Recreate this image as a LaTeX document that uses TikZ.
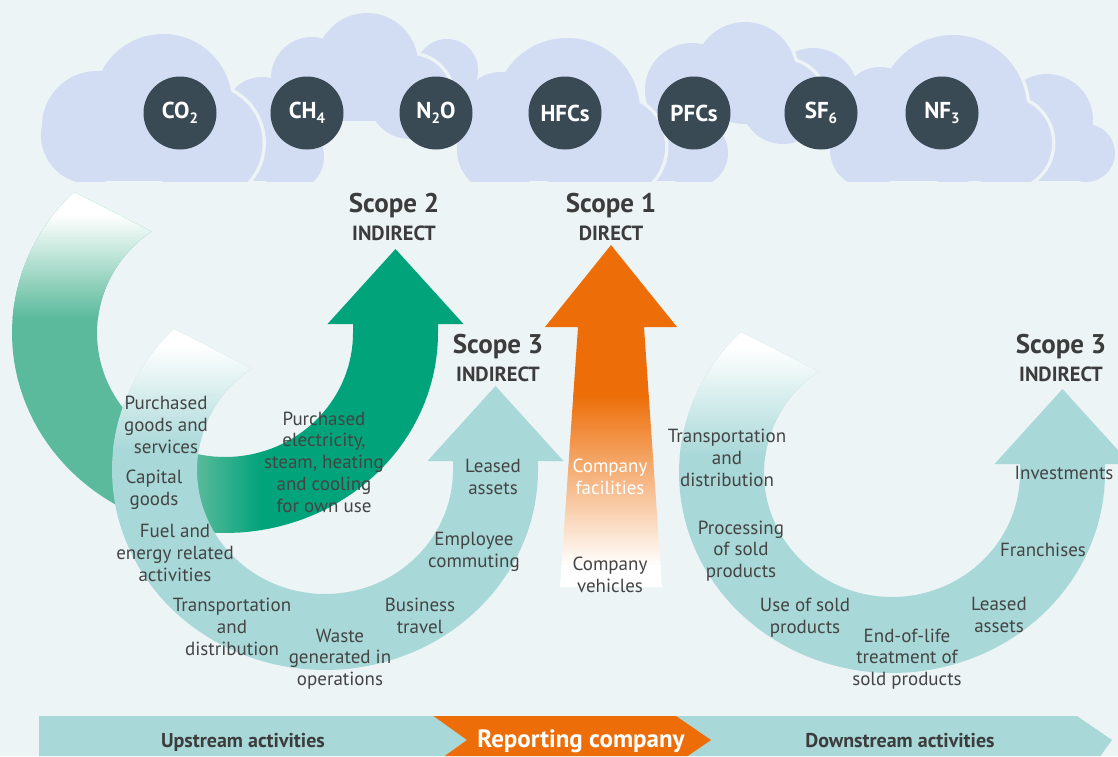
\documentclass[tikz,border=0pt]{standalone}
\usepackage{fontspec}
\setmainfont{PT Sans}

\definecolor{bg}{RGB}{236,244,246}
\definecolor{cloudc}{RGB}{210,220,242}
\definecolor{gasc}{RGB}{57,74,85}
\definecolor{txt}{RGB}{68,68,68}
\definecolor{dark}{RGB}{60,60,60}
\definecolor{tealc}{RGB}{169,216,216}
\definecolor{greenD}{RGB}{0,163,122}
\definecolor{greenL}{RGB}{91,186,155}
\definecolor{orangec}{RGB}{237,110,8}
\definecolor{orangeM}{RGB}{243,155,80}

% subscript for gas formulas
\newcommand{\gsub}[1]{\raisebox{-0.22em}{\fontsize{15}{15}\selectfont #1}}

% ring arrow: centre (#1,#2), elliptic ring ending in an upward arrow head
\newcommand{\ringpath}[2]{plot[domain=224.8:0,samples=90] ({#1+213*cos(\x)},{#2+200*sin(\x)})
  -- ({#1+213},{#2-9}) -- ({#1+238.5},{#2-9}) -- ({#1+170.5},{#2-84})
  -- ({#1+102.5},{#2-9}) -- ({#1+128},{#2-9})
  -- plot[domain=0:235,samples=90] ({#1+128*cos(\x)},{#2+124*sin(\x)}) -- cycle}

% cloud pieces: circles given as x/y/r, boxes as x1/y1/x2/y2
\newcommand{\cloudcircs}[2]{\foreach \cx/\cy/\cr in {#2} {\path[#1] (\cx,\cy) circle[radius=\cr];}}
\newcommand{\cloudboxes}[2]{\foreach \ax/\ay/\bx/\by in {#2} {\path[#1] (\ax,\ay) rectangle (\bx,\by);}}

\begin{document}
\begin{tikzpicture}[x=1pt,y=-1pt,
  lbl/.style={font=\fontsize{19}{21.7}\selectfont, text=txt, align=center, inner sep=0pt},
  gas/.style={circle, fill=gasc, minimum size=73pt, inner sep=0pt, text=white,
              font=\fontsize{23}{23}\selectfont\bfseries},
  scopet/.style={font=\fontsize{27}{27}\selectfont\bfseries, text=dark, inner sep=0pt, anchor=base},
  scopes/.style={font=\fontsize{20.5}{20.5}\selectfont\bfseries, text=dark, inner sep=0pt, anchor=base},
  bantxt/.style={font=\fontsize{20}{20}\selectfont\bfseries, text=dark, inner sep=0pt, anchor=base},
  halo/.style={draw=bg, line width=7pt},
  cfill/.style={fill=cloudc}]

\useasboundingbox (0,0) rectangle (1118,756);
\fill[bg] (0,0) rectangle (1118,756);

% ---- clouds (back to front, each front cloud cut out by a background halo) ----
\begin{scope}
  \clip (0,0) rectangle (1118,181);
  % F
  \cloudcircs{cfill}{1047/120/46, 1086/153/29}
  \cloudboxes{cfill}{1010/125/1090/181}
  % small bump left of NF3 cloud
  \cloudcircs{cfill}{813/93/45}
  % D
  \cloudcircs{halo}{692/90/47, 745/73/51, 783/102/42, 694/153/34}
  \cloudboxes{halo}{650/121/694/181, 660/85/815/121}
  \cloudcircs{cfill}{692/90/47, 745/73/51, 783/102/42, 694/153/34}
  \cloudboxes{cfill}{650/121/694/181, 660/85/815/121}
  % C
  \cloudcircs{halo}{447/70/31, 500/110/38, 567/111/73, 614/147/51, 500/150/43}
  \cloudboxes{halo}{480/105/614/181}
  \cloudcircs{cfill}{447/70/31, 500/110/38, 567/111/73, 614/147/51, 500/150/43}
  \cloudboxes{cfill}{480/105/614/181}
  % B
  \cloudcircs{halo}{262/115/38, 290/157/34, 312/78/41, 367/64/51, 410/97/42}
  \cloudboxes{halo}{250/121/292/181, 262/80/440/121}
  \cloudcircs{cfill}{262/115/38, 290/157/34, 312/78/41, 367/64/51, 410/97/42}
  \cloudboxes{cfill}{250/121/292/181, 262/80/440/121}
  % A
  \cloudcircs{halo}{97/126/55, 90/135/49, 163/103/69, 205/143/57.5}
  \cloudboxes{halo}{97/100/205/181}
  \cloudcircs{cfill}{97/126/55, 90/135/49, 163/103/69, 205/143/57.5}
  \cloudboxes{cfill}{97/100/205/181}
  % E
  \cloudcircs{halo}{953/109/74, 1006/143/46}
  \cloudcircs{cfill}{880/105/38, 953/109/74, 1006/143/46, 868/150/38}
  \cloudboxes{cfill}{850/120/1006/181}
\end{scope}

% ---- greenhouse gases ----
\node[gas] (co2) at (180,113) {CO\gsub{2}};
\node[gas] (ch4) at (307,113) {CH\gsub{4}};
\node[gas] (n2o) at (436,113) {N\gsub{2}O};
\node[gas] (hfc) at (565,113) {HFCs};
\node[gas] (pfc) at (694,113) {PFCs};
\node[gas] (sf6) at (821,113) {SF\gsub{6}};
\node[gas] (nf3) at (942,113) {NF\gsub{3}};

% ---- scope 2 ring arrow ----
\begin{scope}
  \clip \ringpath{225}{333};
  \fill[greenL] (0,150) rectangle (196,560);
  \shade[left color=greenL, right color=greenD] (195,150) rectangle (262,560);
  \fill[greenD] (261,150) rectangle (480,560);
  \fill[white] (0,150) rectangle (205,216);
  \shade[top color=white, bottom color=greenL] (0,215) rectangle (205,318);
\end{scope}

% ---- scope 3 upstream ring arrow ----
\begin{scope}
  \clip \ringpath{325}{470};
  \fill[tealc] (100,300) rectangle (580,700);
  \fill[white] (100,300) rectangle (330,346);
  \shade[top color=white, bottom color=tealc] (100,345) rectangle (330,450);
\end{scope}

% ---- scope 1 straight arrow ----
\begin{scope}
  \clip (611,245) -- (677,327) -- (644,327) -- (662,587) -- (560,587) -- (578,327) -- (545,327) -- cycle;
  \fill[orangec] (540,240) rectangle (680,396);
  \shade[top color=orangec, middle color=orangeM, bottom color=white] (540,395) rectangle (680,566);
  \fill[white] (540,565) rectangle (680,600);
\end{scope}

% ---- scope 3 downstream ring arrow ----
\begin{scope}
  \clip \ringpath{892}{473};
  \fill[tealc] (660,300) rectangle (1140,700);
  \fill[white] (660,300) rectangle (897,349);
  \shade[top color=white, bottom color=tealc] (660,348) rectangle (897,455);
\end{scope}

% ---- scope headings ----
\node[scopet] (s2)   at (394,212)  {Scope 2};
\node[scopes] (s2i)  at (394,240)  {INDIRECT};
\node[scopet] (s1)   at (611,212)  {Scope 1};
\node[scopes] (s1d)  at (611,240)  {DIRECT};
\node[scopet] (s3u)  at (498,353)  {Scope 3};
\node[scopes] (s3ui) at (498,381)  {INDIRECT};
\node[scopet] (s3d)  at (1061,353) {Scope 3};
\node[scopes] (s3di) at (1061,381) {INDIRECT};

% ---- upstream categories ----
\node[lbl] (pgs)  at (166,425) {Purchased\\goods and\\services};
\node[lbl] (cap)  at (154,490) {Capital\\goods};
\node[lbl] (fuel) at (175,553) {Fuel and\\energy related\\activities};
\node[lbl] (tdu)  at (232,627) {Transportation\\and\\distribution};
\node[lbl] (wst)  at (340,659) {Waste\\generated in\\operations};
\node[lbl] (bus)  at (420,616) {Business\\travel};
\node[lbl] (emp)  at (474,552) {Employee\\commuting};
\node[lbl] (lau)  at (493,477) {Leased\\assets};
\node[lbl] (elec) at (324,462) {Purchased\\electricity,\\steam, heating\\and cooling\\for own use};

% ---- company ----
\node[lbl, text=white] (fac) at (610,477) {Company\\facilities};
\node[lbl] (veh) at (610,575) {Company\\vehicles};

% ---- downstream categories ----
\node[lbl] (tdd)  at (727,458)  {Transportation\\and\\distribution};
\node[lbl] (proc) at (741,551)  {Processing\\of sold\\products};
\node[lbl] (use)  at (805,618)  {Use of sold\\products};
\node[lbl] (eol)  at (907,659)  {End-of-life\\treatment of\\sold products};
\node[lbl] (lad)  at (999,615)  {Leased\\assets};
\node[lbl] (fra)  at (1043,550) {Franchises};
\node[lbl] (inv)  at (1064,473) {Investments};

% ---- value chain banner ----
\fill[tealc] (39,716) -- (1077,716) -- (1112,740) -- (1100.3,756) -- (39,756) -- cycle;
\fill[orangec] (433.5,716) -- (676,716) -- (711,740) -- (687.7,756) -- (444.7,756) -- (467,740) -- cycle;
\node[bantxt] (ups) at (243,747) {Upstream activities};
\node[bantxt, text=white, font=\fontsize{25}{25}\selectfont\bfseries] (rep) at (581,747) {Reporting company};
\node[bantxt] (dns) at (900,747) {Downstream activities};
\end{tikzpicture}
\end{document}
